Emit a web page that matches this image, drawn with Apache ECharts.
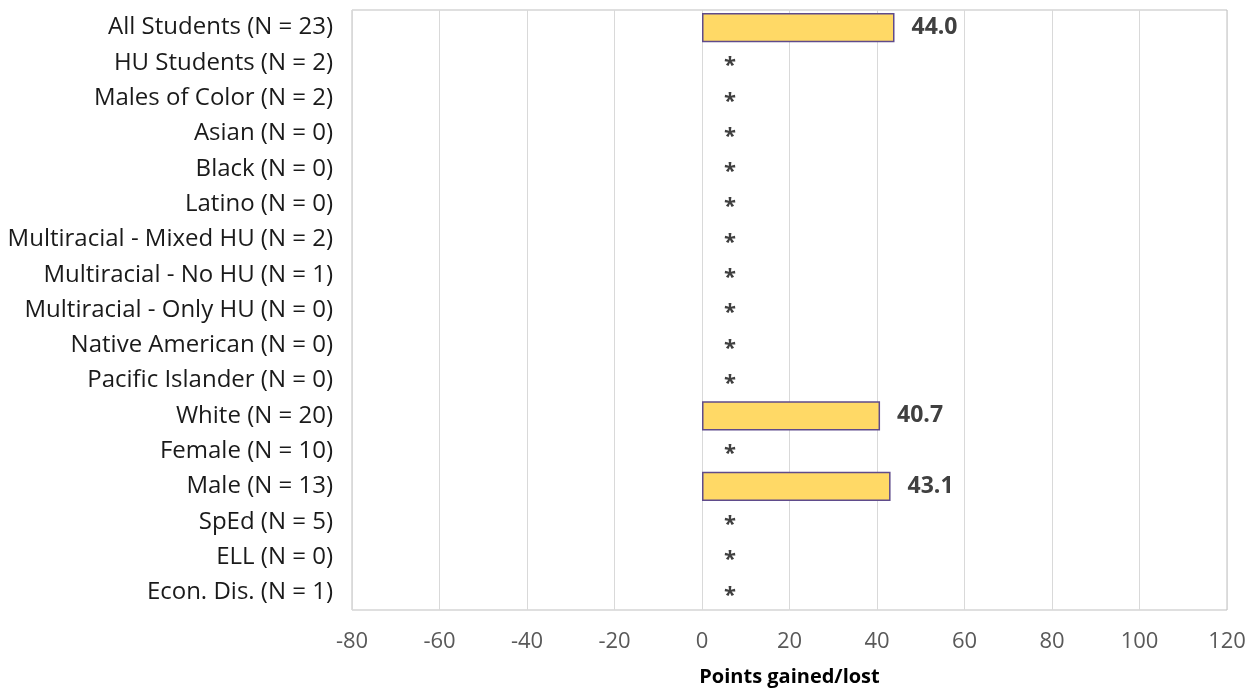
<!DOCTYPE html>
<html><head><meta charset="utf-8">
<script src="https://cdn.jsdelivr.net/npm/echarts@6/dist/echarts.min.js"></script>
<style>html,body{margin:0;padding:0;background:#fff}#c{width:1260px;height:694px}</style>
</head><body><div id="c"></div>
<script>
const categories = ["All Students (N = 23)","HU Students (N = 2)","Males of Color (N = 2)","Asian (N = 0)","Black (N = 0)","Latino (N = 0)","Multiracial - Mixed HU (N = 2)","Multiracial - No HU (N = 1)","Multiracial - Only HU (N = 0)","Native American (N = 0)","Pacific Islander (N = 0)","White (N = 20)","Female (N = 10)","Male (N = 13)","SpEd (N = 5)","ELL (N = 0)","Econ. Dis. (N = 1)"];
const values = [44.0,null,null,null,null,null,null,null,null,null,null,40.7,null,43.1,null,null,null];
const xTicks = {min:-80,max:120,interval:20};
const xTitle = "Points gained/lost";
const suppressedMark = "*";

const font = "'Open Sans', sans-serif";
const chart = echarts.init(document.getElementById('c'));
chart.setOption({
  animation:false,
  grid:{left:352,right:33,top:10,bottom:84,show:true,borderColor:'#bfbfbf',borderWidth:1,containLabel:false},
  xAxis:{type:'value',min:xTicks.min,max:xTicks.max,interval:xTicks.interval,
    name:xTitle,nameLocation:'middle',nameGap:57,
    nameTextStyle:{fontFamily:font,fontWeight:'bold',fontSize:20,color:'#000'},
    axisLine:{show:false},axisTick:{show:false},
    axisLabel:{fontFamily:font,fontSize:22,color:'#595959',margin:21},
    splitLine:{lineStyle:{color:'#d9d9d9',width:1}}},
  yAxis:{type:'category',data:categories,inverse:true,
    axisLine:{show:false},axisTick:{show:false},
    axisLabel:{fontFamily:font,fontSize:24,color:'#1a1a1a',margin:19}},
  series:[
    {type:'bar',data:values,barCategoryGap:'17%',
     itemStyle:{color:'#FFD966',borderColor:'#5F4B8B',borderWidth:1.5},
     label:{show:true,position:'right',distance:17,fontFamily:font,fontWeight:'bold',fontSize:23,color:'#404040',
       formatter:p=>p.value==null?'':p.value.toFixed(1)}},
    {type:'bar',barGap:'-100%',data:values.map(v=>v==null?0:null),
     itemStyle:{color:'transparent',borderWidth:0},
     label:{show:true,position:'right',distance:22,fontFamily:font,fontWeight:'bold',fontSize:22,color:'#404040',
       offset:[0,3],formatter:()=>suppressedMark}}
  ]
});
</script></body></html>
